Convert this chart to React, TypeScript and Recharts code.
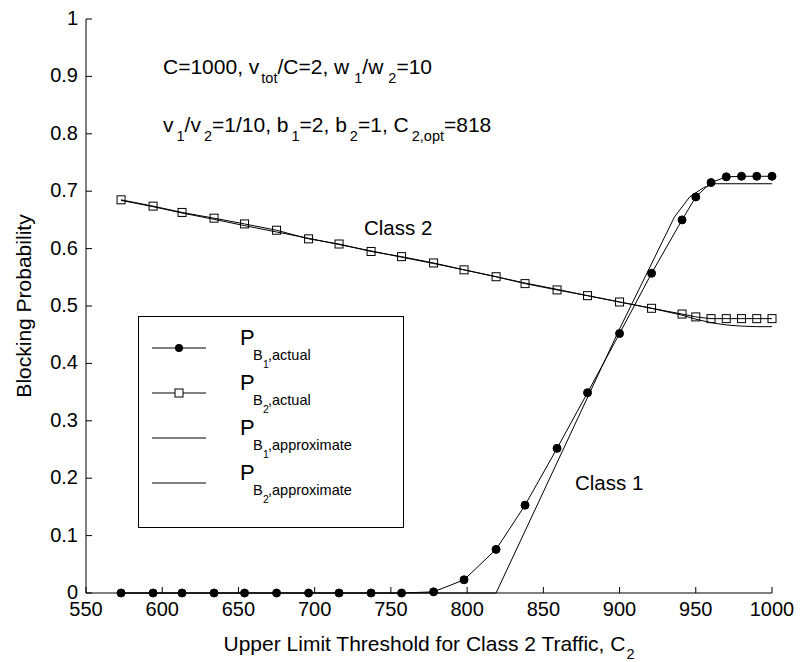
import React from "react";
import { LineChart, Line, XAxis, YAxis, Legend } from "recharts";

// C2 thresholds at which the simulated points were taken
const C2 = [573, 594, 613, 634, 654, 675, 696, 716, 737, 757, 778, 798, 819, 838, 859, 879, 900, 921, 941, 950, 960, 970, 980, 990, 1000];
const PB1_ACTUAL = [0, 0, 0, 0, 0, 0, 0, 0, 0, 0, 0.002, 0.023, 0.076, 0.153, 0.252, 0.349, 0.452, 0.557, 0.65, 0.69, 0.715, 0.725, 0.726, 0.726, 0.726];
const PB2_ACTUAL = [0.685, 0.674, 0.663, 0.653, 0.643, 0.632, 0.617, 0.608, 0.595, 0.586, 0.575, 0.563, 0.551, 0.539, 0.528, 0.518, 0.507, 0.496, 0.486, 0.481, 0.478, 0.478, 0.478, 0.478, 0.478];
const PB2_APPROX = [0.684, 0.673, 0.662, 0.651, 0.64, 0.629, 0.618, 0.607, 0.596, 0.585, 0.574, 0.563, 0.551, 0.54, 0.529, 0.518, 0.507, 0.496, 0.484, 0.477, 0.471, 0.467, 0.465, 0.464, 0.464];

// class 1 approximation: zero up to C2,opt, then rising into saturation
const C2_APPROX1 = [573, 819, 900, 936, 946, 955, 962, 1000];
const PB1_APPROX = [0, 0, 0.46, 0.655, 0.69, 0.706, 0.713, 0.713];

const X_TICKS = [550, 600, 650, 700, 750, 800, 850, 900, 950, 1000];
const Y_TICKS = [0, 0.1, 0.2, 0.3, 0.4, 0.5, 0.6, 0.7, 0.8, 0.9, 1];

const LEGEND_ITEMS = [
  { name: "pb1", idx: "1", kind: ",actual", marker: "circle" },
  { name: "pb2", idx: "2", kind: ",actual", marker: "square" },
  { name: "pb1a", idx: "1", kind: ",approximate", marker: "none" },
  { name: "pb2a", idx: "2", kind: ",approximate", marker: "none" },
];

const FONT = "'Liberation Sans', Arial, Helvetica, sans-serif";
const TICK_FS = 20;
const TEXT_FS = 21;
const SUB_FS = 14.5;

const actual = C2.map((c2, i) => ({ c2, pb1: PB1_ACTUAL[i], pb2: PB2_ACTUAL[i], pb2a: PB2_APPROX[i] }));
const approx1 = C2_APPROX1.map((c2, i) => ({ c2, pb1a: PB1_APPROX[i] }));

const fmtY = (v: number) => (v === 0 ? "0" : v === 1 ? "1" : v.toFixed(1));

function BottomTick({ x, y, payload }: any) {
  return (
    <g>
      <line x1={x} y1={y} x2={x} y2={y - 6} stroke="#000" />
      <text x={x} y={y + 23} textAnchor="middle" fontSize={TICK_FS} fontFamily={FONT} fill="#000">
        {payload.value}
      </text>
    </g>
  );
}

function LeftTick({ x, y, payload }: any) {
  return (
    <g>
      <line x1={x} y1={y} x2={x + 6} y2={y} stroke="#000" />
      <text x={x - 8} y={y + 6} textAnchor="end" fontSize={TICK_FS} fontFamily={FONT} fill="#000">
        {fmtY(payload.value)}
      </text>
    </g>
  );
}

function TopTick({ x, y }: any) {
  return <line x1={x} y1={y} x2={x} y2={y + 6} stroke="#000" />;
}

function RightTick({ x, y }: any) {
  return <line x1={x} y1={y} x2={x - 6} y2={y} stroke="#000" />;
}

function SquareDot({ cx, cy, index }: any) {
  return <rect key={index} x={cx - 4} y={cy - 4} width={8} height={8} fill="none" stroke="#000" strokeWidth={1} />;
}

function LegendBox() {
  return (
    <svg width={266} height={212} style={{ display: "block" }}>
      <rect x={0.5} y={0.5} width={265} height={211} fill="#fff" stroke="#000" />
      {LEGEND_ITEMS.map((it, i) => {
        const ly = 32 + i * 45;
        return (
          <g key={it.name} fontFamily={FONT} fill="#000">
            <line x1={14} y1={ly} x2={68} y2={ly} stroke="#000" />
            {it.marker === "circle" && <circle cx={41} cy={ly} r={4} fill="#000" />}
            {it.marker === "square" && <rect x={37} y={ly - 4} width={8} height={8} fill="#fff" stroke="#000" />}
            <text x={102} y={ly - 3} fontSize={22}>P</text>
            <text x={115} y={ly + 12} fontSize={14.5}>B</text>
            <text x={125} y={ly + 20} fontSize={10.5}>{it.idx}</text>
            <text x={130} y={ly + 12} fontSize={14.5}>{it.kind}</text>
          </g>
        );
      })}
    </svg>
  );
}

function Sub({ children, gap = 3 }: { children: React.ReactNode; gap?: number }) {
  return (
    <tspan dx={gap} dy={9} fontSize={SUB_FS}>
      {children}
    </tspan>
  );
}

export default function App() {
  return (
    <div style={{ position: "absolute", left: 0, top: 0, width: 800, height: 662, background: "#fff" }}>
      <LineChart width={800} height={662} margin={{ top: 19, right: 28, bottom: 39, left: 46 }}>
        <XAxis
          dataKey="c2"
          type="number"
          domain={[550, 1000]}
          ticks={X_TICKS}
          interval={0}
          tickSize={0}
          tickMargin={0}
          tickLine={false}
          axisLine={{ stroke: "#000" }}
          tick={BottomTick}
          height={30}
        />
        <XAxis
          xAxisId="top"
          orientation="top"
          type="number"
          domain={[550, 1000]}
          ticks={X_TICKS}
          interval={0}
          tickSize={0}
          tickMargin={0}
          tickLine={false}
          axisLine={{ stroke: "#000" }}
          tick={TopTick}
          height={0}
        />
        <YAxis
          type="number"
          domain={[0, 1]}
          ticks={Y_TICKS}
          interval={0}
          tickSize={0}
          tickMargin={0}
          tickLine={false}
          axisLine={{ stroke: "#000" }}
          tick={LeftTick}
          width={40}
        />
        <YAxis
          yAxisId="right"
          orientation="right"
          type="number"
          domain={[0, 1]}
          ticks={Y_TICKS}
          interval={0}
          tickSize={0}
          tickMargin={0}
          tickLine={false}
          axisLine={{ stroke: "#000" }}
          tick={RightTick}
          width={0}
        />
        <Line data={actual} dataKey="pb1" name="pb1" type="linear" stroke="#000" strokeWidth={1}
          dot={{ r: 4, fill: "#000", stroke: "#000", strokeWidth: 1 }} isAnimationActive={false} />
        <Line data={actual} dataKey="pb2" name="pb2" type="linear" stroke="#000" strokeWidth={1}
          dot={SquareDot} isAnimationActive={false} />
        <Line data={approx1} dataKey="pb1a" name="pb1a" type="linear" stroke="#000" strokeWidth={1}
          dot={false} isAnimationActive={false} />
        <Line data={actual} dataKey="pb2a" name="pb2a" type="linear" stroke="#000" strokeWidth={1}
          dot={false} isAnimationActive={false} />
        <Legend
          layout="horizontal"
          verticalAlign="middle"
          align="center"
          wrapperStyle={{ left: 138, top: 316, width: 266, height: 212 }}
          content={() => <LegendBox />}
        />
      </LineChart>
      <svg width={800} height={662} style={{ position: "absolute", left: 0, top: 0, pointerEvents: "none" }}
        fontFamily={FONT} fill="#000">
        <text x={163} y={74} fontSize={TEXT_FS}>
          C=1000, v<Sub gap={2}>tot</Sub>
          <tspan dy={-9}>/C=2, w</tspan>
          <Sub gap={5}>1</Sub>
          <tspan dy={-9}>/w</tspan>
          <Sub gap={5}>2</Sub>
          <tspan dy={-9}>=10</tspan>
        </text>
        <text x={163} y={132} fontSize={TEXT_FS}>
          v<Sub>1</Sub>
          <tspan dy={-9}>/v</tspan>
          <Sub>2</Sub>
          <tspan dy={-9}>=1/10, b</tspan>
          <Sub>1</Sub>
          <tspan dy={-9}>=2, b</tspan>
          <Sub>2</Sub>
          <tspan dy={-9}>=1, C</tspan>
          <Sub>2,opt</Sub>
          <tspan dy={-9}>=818</tspan>
        </text>
        <text x={364} y={235} fontSize={20.5}>Class 2</text>
        <text x={575} y={490} fontSize={20.5}>Class 1</text>
        <text x={429} y={651} fontSize={TEXT_FS} textAnchor="middle">
          Upper Limit Threshold for Class 2 Traffic, C<tspan dx={1} dy={8} fontSize={SUB_FS}>2</tspan>
        </text>
        <text x={31} y={306} fontSize={TEXT_FS} textAnchor="middle" transform="rotate(-90 31 306)">
          Blocking Probability
        </text>
      </svg>
    </div>
  );
}
